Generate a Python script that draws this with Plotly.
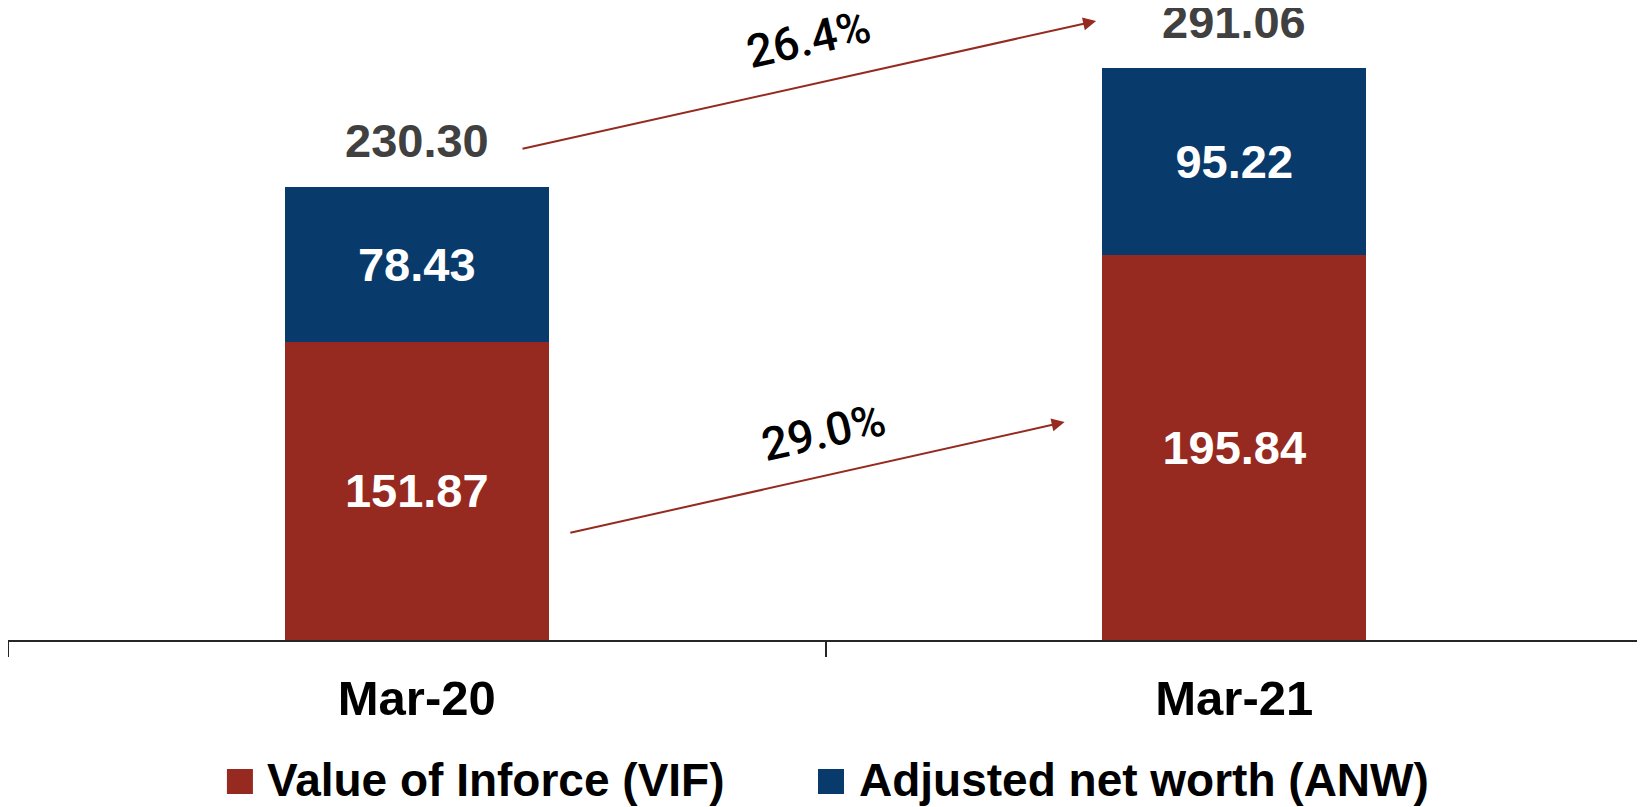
import plotly.graph_objects as go

categories = ["Mar-20", "Mar-21"]
vif = [151.87, 195.84]
anw = [78.43, 95.22]
series_names = ["Value of Inforce (VIF)", "Adjusted net worth (ANW)"]
series_colors = ["#962A20", "#083A6B"]

totals = [round(a + b, 2) for a, b in zip(vif, anw)]
growth_total = (totals[1] / totals[0] - 1) * 100
growth_vif = (vif[1] / vif[0] - 1) * 100

FONT = "Liberation Sans, Arial, sans-serif"

fig = go.Figure()
for name, vals, col in zip(series_names, [vif, anw], series_colors):
    fig.add_trace(go.Bar(
        x=categories, y=vals, name=name,
        marker=dict(color=col, line=dict(width=0)),
        width=0.323,
        texttemplate="%{y:.2f}", textposition="inside",
        insidetextanchor="middle",
        textfont=dict(family=FONT, size=47, color="white", weight="bold"),
        showlegend=False, hoverinfo="skip",
    ))

annotations = []
# totals above bars
for c, t in zip(categories, totals):
    annotations.append(dict(
        x=c, y=t, xref="x", yref="y", text=f"{t:.2f}", showarrow=False,
        yanchor="middle", yshift=47,
        font=dict(family=FONT, size=47, color="#404040", weight="bold"),
    ))

# growth arrows (index positions on the category axis)
ARROW = "#962A20"
annotations.append(dict(
    x=0.831, y=315, ax=0.1275, ay=249.8, xref="x", yref="y", axref="x", ayref="y",
    showarrow=True, arrowhead=2, arrowsize=1.3, arrowwidth=2, arrowcolor=ARROW, text="",
))
annotations.append(dict(
    x=0.7925, y=110.9, ax=0.186, ay=54.4, xref="x", yref="y", axref="x", ayref="y",
    showarrow=True, arrowhead=2, arrowsize=1.3, arrowwidth=2, arrowcolor=ARROW, text="",
))
GFONT = dict(family="Roboto, Liberation Sans, Arial, sans-serif", size=46, color="black", weight=500)
annotations.append(dict(
    x=0.479, y=305.8, xref="x", yref="y", text=f"{growth_total:.1f}%", showarrow=False,
    textangle=-12.6, font=GFONT,
))
annotations.append(dict(
    x=0.4977, y=105.8, xref="x", yref="y", text=f"{growth_vif:.1f}%", showarrow=False,
    textangle=-12.6, font=GFONT,
))

# custom legend
shapes = []
leg_sq_x = [0.1339, 0.4954]
leg_txt_x = [0.1572, 0.5193]
for name, col, sx, tx in zip(series_names, series_colors, leg_sq_x, leg_txt_x):
    shapes.append(dict(type="rect", xref="paper", yref="paper",
                       x0=sx, x1=sx + 0.0159, y0=-0.2437, y1=-0.2041,
                       fillcolor=col, line=dict(width=0)))
    annotations.append(dict(
        x=tx, y=-0.2215, xref="paper", yref="paper", text=name, showarrow=False,
        xanchor="left", yanchor="middle",
        font=dict(family=FONT, size=46, color="black", weight="bold"),
    ))

fig.update_layout(
    barmode="stack",
    width=1637, height=799,
    margin=dict(l=0, r=2, t=0, b=167),
    paper_bgcolor="white", plot_bgcolor="white",
    annotations=annotations, shapes=shapes,
    showlegend=False,
    xaxis=dict(
        type="category", range=[-0.5, 1.5],
        showline=True, linecolor="#262626", linewidth=2,
        ticks="outside", tickson="boundaries", ticklen=15, tickwidth=2, tickcolor="#262626",
        tickfont=dict(family=FONT, size=49, color="black", weight="bold"),
        ticklabelstandoff=14,
        showgrid=False, zeroline=False,
    ),
    yaxis=dict(
        range=[0, 321.6], visible=False, showgrid=False, zeroline=False,
    ),
)

fig.write_html("out.html")
